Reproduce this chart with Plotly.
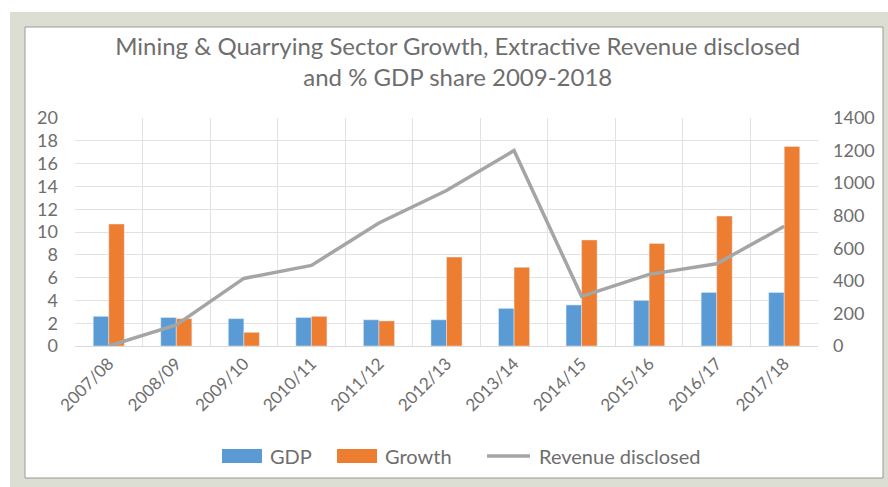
import plotly.graph_objects as go

categories = ["2007/08", "2008/09", "2009/10", "2010/11", "2011/12", "2012/13",
              "2013/14", "2014/15", "2015/16", "2016/17", "2017/18"]
gdp = [2.6, 2.5, 2.4, 2.5, 2.3, 2.3, 3.3, 3.6, 4.0, 4.7, 4.7]
growth = [10.7, 2.4, 1.2, 2.6, 2.2, 7.8, 6.9, 9.3, 9.0, 11.4, 17.5]
revenue = [0, 130, 415, 495, 755, 955, 1200, 305, 440, 505, 735]
series_names = ["GDP", "Growth", "Revenue disclosed"]
series_colors = ["#5B9BD5", "#ED7D31", "#A5A5A5"]

left_ticks = list(range(0, 21, 2))
right_ticks = list(range(0, 1401, 200))

FONT = "Lato"
TXT = "#6e6e6e"
GRID = "#e2e2e2"

L, R, T, B = 75, 70, 118, 141
PW, PH = 888 - L - R, 487 - T - B


def px(x):
    return (x - L) / PW


def py(y):
    return (487 - B - y) / PH


fig = go.Figure()
fig.add_trace(go.Bar(name=series_names[0], x=categories, y=gdp, marker_color=series_colors[0]))
fig.add_trace(go.Bar(name=series_names[1], x=categories, y=growth, marker_color=series_colors[1]))
fig.add_trace(go.Scatter(name=series_names[2], x=categories, y=revenue, yaxis="y2",
                         mode="lines", line=dict(color=series_colors[2], width=3.5)))

# legend drawn as swatches + text (Excel-style wide swatches)
LEG_Y = 456
swatches = [(222, 262), (337, 377), (487, 530)]
text_x = [268, 383, 537]
shapes = [
    dict(type="rect", xref="paper", yref="paper", layer="below",
         x0=px(10), x1=px(888), y0=py(487), y1=py(12),
         fillcolor="#dcddd3", line=dict(width=0)),
    dict(type="rect", xref="paper", yref="paper", layer="below",
         x0=px(25), x1=px(883), y0=py(478), y1=py(27),
         fillcolor="#ffffff", line=dict(color="#9a9a94", width=1)),
]
annotations = []
for i, (a, b) in enumerate(swatches):
    if i < 2:
        shapes.append(dict(type="rect", xref="paper", yref="paper",
                           x0=px(a), x1=px(b), y0=py(LEG_Y + 7), y1=py(LEG_Y - 7),
                           fillcolor=series_colors[i], line=dict(width=0)))
    else:
        shapes.append(dict(type="line", xref="paper", yref="paper",
                           x0=px(a), x1=px(b), y0=py(LEG_Y), y1=py(LEG_Y),
                           line=dict(color=series_colors[i], width=3.5)))
    annotations.append(dict(text=series_names[i], xref="paper", yref="paper",
                            x=px(text_x[i]), y=py(LEG_Y), xanchor="left", yanchor="middle",
                            showarrow=False, font=dict(family=FONT, size=20, color=TXT)))

fig.update_layout(
    width=888, height=487,
    margin=dict(l=L, r=R, t=T, b=B, autoexpand=False),
    paper_bgcolor="#ffffff", plot_bgcolor="#ffffff",
    barmode="group", bargap=0.54, bargroupgap=0,
    showlegend=False,
    title=dict(text="Mining &amp; Quarrying Sector Growth, Extractive Revenue disclosed<br>and % GDP share 2009-2018",
               x=px(458), xanchor="center", y=1 - 55 / 487, yanchor="middle",
               font=dict(family=FONT, size=24, color=TXT)),
    xaxis=dict(tickangle=-45, tickson="boundaries", showgrid=True, gridcolor=GRID,
               ticks="", showline=True, linecolor="#d9d9d9", automargin=False,
               tickfont=dict(family=FONT, size=17, color=TXT)),
    yaxis=dict(range=[0, 20], tickvals=left_ticks, showgrid=True, gridcolor=GRID,
               zeroline=False, automargin=False,
               tickfont=dict(family=FONT, size=18, color=TXT), ticklabelstandoff=16),
    yaxis2=dict(range=[0, 1400], tickvals=right_ticks, overlaying="y", side="right",
                showgrid=False, zeroline=False, automargin=False,
                tickfont=dict(family=FONT, size=18, color=TXT), ticklabelstandoff=14),
    shapes=shapes,
    annotations=annotations,
)

fig.write_html("out.html", config={"displayModeBar": False},
               post_script="document.body.style.margin='0';document.body.style.overflow='hidden';")
